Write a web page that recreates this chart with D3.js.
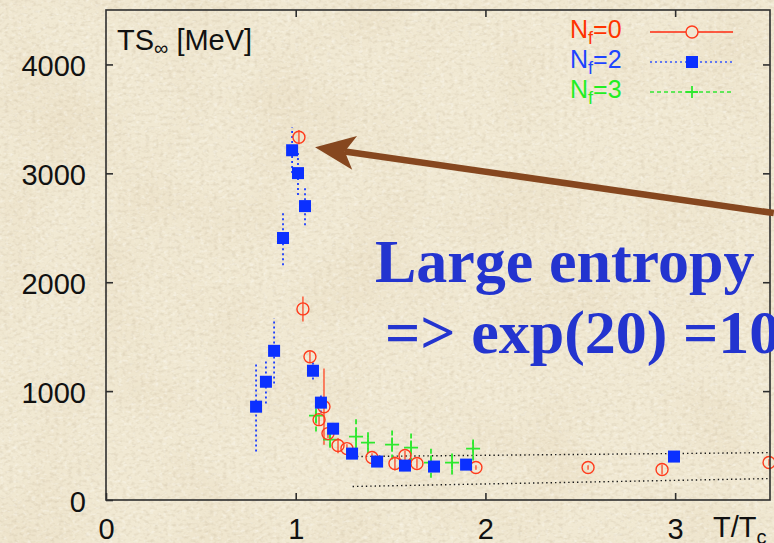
<!DOCTYPE html>
<html>
<head>
<meta charset="utf-8">
<script src="https://cdn.jsdelivr.net/npm/d3@7"></script>
<style>
  body { margin: 0; background: #f1e9d3; }
  svg { display: block; }
</style>
</head>
<body>
<svg id="chart"></svg>
<script>
// values, T/Tc vs TS_inf [MeV], e = half error bar
const nf0 = [
  {x: 1.017, y: 3332, e: 65},
  {x: 1.038, y: 1755, e: 115},
  {x: 1.075, y: 1315, e: 50},
  {x: 1.123, y: 738, e: 55},
  {x: 1.149, y: 857, e: 350},
  {x: 1.170, y: 610, e: 40},
  {x: 1.223, y: 500, e: 70},
  {x: 1.270, y: 472, e: 40},
  {x: 1.402, y: 390, e: 40},
  {x: 1.523, y: 335, e: 64},
  {x: 1.576, y: 408, e: 45},
  {x: 1.639, y: 335, e: 45},
  {x: 1.950, y: 298, e: 20},
  {x: 2.541, y: 298, e: 20},
  {x: 2.931, y: 280, e: 45},
  {x: 3.495, y: 344, e: 30}
];

const nf2 = [
  {x: 0.791, y: 857, e: 412},
  {x: 0.843, y: 1086, e: 200},
  {x: 0.886, y: 1370, e: 300},
  {x: 0.933, y: 2406, e: 250},
  {x: 0.981, y: 3212, e: 210},
  {x: 1.012, y: 3002, e: 200},
  {x: 1.049, y: 2699, e: 175},
  {x: 1.091, y: 1187, e: 80},
  {x: 1.133, y: 894, e: 90},
  {x: 1.197, y: 655, e: 50},
  {x: 1.297, y: 426, e: 30},
  {x: 1.429, y: 353, e: 30},
  {x: 1.576, y: 316, e: 30},
  {x: 1.729, y: 307, e: 30},
  {x: 1.898, y: 325, e: 30},
  {x: 2.994, y: 399, e: 30}
];

const nf3 = [
  {x: 1.107, y: 775, e: 147},
  {x: 1.181, y: 555, e: 75},
  {x: 1.318, y: 582, e: 180},
  {x: 1.381, y: 527, e: 95},
  {x: 1.508, y: 509, e: 137},
  {x: 1.608, y: 481, e: 137},
  {x: 1.713, y: 344, e: 140},
  {x: 1.824, y: 344, e: 110},
  {x: 1.935, y: 472, e: 110}
];

// the two dotted guide lines
const upperBand = [{x: 1.30, y: 399}, {x: 3.5, y: 435}];
const lowerBand = [{x: 1.30, y: 124}, {x: 3.5, y: 197}];

// annotation arrow (data units)
const arrowTail = {x: 3.52, y: 2635};
const arrowTip = {x: 1.102, y: 3240};

const xTicks = [0, 1, 2, 3];
const yTicks = [0, 1000, 2000, 3000, 4000];
const legendLabels = ['0', '2', '3'];

class EntropyChart {

  constructor(_config) {
    this.config = {
      parentElement: _config.parentElement,
      containerWidth: 774,
      containerHeight: 543,
      margin: {top: 10, right: 4, bottom: 43, left: 106}
    };
    this.initVis();
  }

  initVis() {
    let vis = this;
    vis.config.width = vis.config.containerWidth - vis.config.margin.left - vis.config.margin.right;
    vis.config.height = vis.config.containerHeight - vis.config.margin.top - vis.config.margin.bottom;

    vis.svg = d3.select(vis.config.parentElement)
      .attr('width', vis.config.containerWidth)
      .attr('height', vis.config.containerHeight);

    vis.drawPaper();

    vis.chartArea = vis.svg.append('g')
      .attr('transform', `translate(${vis.config.margin.left},${vis.config.margin.top})`);

    vis.xScale = d3.scaleLinear().domain([0, 3.5]).range([0, vis.config.width]);
    vis.yScale = d3.scaleLinear().domain([0, 4500]).range([vis.config.height, 0]);

    vis.drawAxes();
    vis.renderVis();
    vis.drawLegend();
    vis.drawAnnotation();

    // frame on top
    vis.chartArea.append('rect')
      .attr('width', vis.config.width)
      .attr('height', vis.config.height)
      .attr('fill', 'none')
      .attr('stroke', '#2e2e2e')
      .attr('stroke-width', 1.6);
  }

  drawPaper() {
    let vis = this;
    const defs = vis.svg.append('defs');
    const dark = defs.append('filter').attr('id', 'paper-dark')
      .attr('x', 0).attr('y', 0).attr('width', '100%').attr('height', '100%');
    dark.append('feTurbulence').attr('type', 'fractalNoise')
      .attr('baseFrequency', '0.22 0.3').attr('numOctaves', 2).attr('seed', 11);
    dark.append('feColorMatrix').attr('type', 'matrix')
      .attr('values', '0 0 0 0 0.55  0 0 0 0 0.46  0 0 0 0 0.32  2.6 0 0 0 -1.2');

    const light = defs.append('filter').attr('id', 'paper-light')
      .attr('x', 0).attr('y', 0).attr('width', '100%').attr('height', '100%');
    light.append('feTurbulence').attr('type', 'fractalNoise')
      .attr('baseFrequency', '0.22 0.3').attr('numOctaves', 2).attr('seed', 11);
    light.append('feColorMatrix').attr('type', 'matrix')
      .attr('values', '0 0 0 0 1  0 0 0 0 1  0 0 0 0 0.97  0 -2.6 0 0 1.2');

    // slow blotches
    const blot = defs.append('filter').attr('id', 'paper-blot')
      .attr('x', 0).attr('y', 0).attr('width', '100%').attr('height', '100%');
    blot.append('feTurbulence').attr('type', 'fractalNoise')
      .attr('baseFrequency', '0.012').attr('numOctaves', 2).attr('seed', 3);
    blot.append('feColorMatrix').attr('type', 'matrix')
      .attr('values', '0 0 0 0 0.75  0 0 0 0 0.62  0 0 0 0 0.42  1.6 0 0 0 -0.7');

    const full = sel => sel
      .attr('width', vis.config.containerWidth).attr('height', vis.config.containerHeight);
    vis.svg.append('rect').call(full).attr('fill', '#f1e9d3');
    vis.svg.append('rect').call(full).attr('filter', 'url(#paper-blot)').attr('opacity', 0.35);
    vis.svg.append('rect').call(full).attr('filter', 'url(#paper-dark)').attr('opacity', 0.3);
    vis.svg.append('rect').call(full).attr('filter', 'url(#paper-light)').attr('opacity', 0.45);
  }

  drawAxes() {
    let vis = this;
    const font = '"Liberation Sans", Arial, Helvetica, sans-serif';

    vis.xAxis = d3.axisBottom(vis.xScale).tickValues(xTicks)
      .tickSizeInner(-7).tickSizeOuter(0).tickPadding(18).tickFormat(d3.format('d'));
    vis.yAxis = d3.axisLeft(vis.yScale).tickValues(yTicks)
      .tickSizeInner(-7).tickSizeOuter(0).tickPadding(20).tickFormat(d3.format('d'));

    const xg = vis.chartArea.append('g')
      .attr('transform', `translate(0,${vis.config.height})`)
      .call(vis.xAxis);
    const yg = vis.chartArea.append('g').call(vis.yAxis);
    yg.selectAll('text').attr('dy', '0.38em');

    // inward ticks on top and right
    const tg = vis.chartArea.append('g')
      .call(d3.axisTop(vis.xScale).tickValues(xTicks.slice(1)).tickSizeInner(-7).tickSizeOuter(0).tickFormat(''));
    const rg = vis.chartArea.append('g')
      .attr('transform', `translate(${vis.config.width},0)`)
      .call(d3.axisRight(vis.yScale).tickValues(yTicks.slice(1)).tickSizeInner(-7).tickSizeOuter(0).tickFormat(''));

    [xg, yg, tg, rg].forEach(g => {
      g.select('.domain').remove();
      g.selectAll('line').attr('stroke', '#2e2e2e').attr('stroke-width', 1.6);
      g.attr('font-family', font).attr('font-size', 29);
      g.selectAll('text').attr('fill', '#111');
    });

    // axis titles
    const yl = vis.chartArea.append('text')
      .attr('x', 11).attr('y', 40)
      .attr('font-family', font).attr('font-size', 29).attr('fill', '#111');
    yl.append('tspan').text('TS');
    yl.append('tspan').attr('font-size', 20).attr('dy', 5).text('∞');
    yl.append('tspan').attr('dy', -5).text(' [MeV]');

    const xl = vis.chartArea.append('text')
      .attr('x', 607).attr('y', vis.config.height + 37)
      .attr('font-family', font).attr('font-size', 29).attr('fill', '#111');
    xl.append('tspan').text('T/T');
    xl.append('tspan').attr('font-size', 20).attr('dy', 7).text('c');
  }

  renderVis() {
    let vis = this;
    const x = d => vis.xScale(d.x), y = d => vis.yScale(d.y);
    const plot = vis.chartArea.append('g');

    // dotted guide lines
    const guide = d3.line().x(x).y(y);
    [upperBand, lowerBand].forEach(b => {
      plot.append('path').attr('d', guide(b))
        .attr('fill', 'none').attr('stroke', '#1a1a1a')
        .attr('stroke-width', 1.4).attr('stroke-dasharray', '1.4,3');
    });

    // error bars
    plot.selectAll('.err0').data(nf0).join('line').attr('class', 'err0')
      .attr('x1', x).attr('x2', x)
      .attr('y1', d => vis.yScale(d.y - d.e)).attr('y2', d => vis.yScale(d.y + d.e))
      .attr('stroke', '#ff4422').attr('stroke-opacity', 0.8).attr('stroke-width', 1.6);
    plot.selectAll('.err2').data(nf2).join('line').attr('class', 'err2')
      .attr('x1', x).attr('x2', x)
      .attr('y1', d => vis.yScale(d.y - d.e)).attr('y2', d => vis.yScale(d.y + d.e))
      .attr('stroke', '#1a3cff').attr('stroke-width', 1.8).attr('stroke-dasharray', '2,3');
    plot.selectAll('.err3').data(nf3).join('line').attr('class', 'err3')
      .attr('x1', x).attr('x2', x)
      .attr('y1', d => vis.yScale(d.y - d.e)).attr('y2', d => vis.yScale(d.y + d.e))
      .attr('stroke', '#2ee82e').attr('stroke-width', 1.8).attr('stroke-dasharray', '5,3');

    // Nf=3 pluses
    plot.selectAll('.p3').data(nf3).join('path').attr('class', 'p3')
      .attr('d', d => `M${x(d) - 7},${y(d)}H${x(d) + 7}M${x(d)},${y(d) - 7}V${y(d) + 7}`)
      .attr('stroke', '#2ee82e').attr('stroke-width', 1.8).attr('fill', 'none');

    // Nf=0 open circles
    plot.selectAll('.c0').data(nf0).join('circle').attr('class', 'c0')
      .attr('cx', x).attr('cy', y).attr('r', 6)
      .attr('fill', 'none').attr('stroke', '#ff3b1c').attr('stroke-width', 1.4);

    // Nf=2 filled squares
    plot.selectAll('.s2').data(nf2).join('rect').attr('class', 's2')
      .attr('x', d => x(d) - 6).attr('y', d => y(d) - 6)
      .attr('width', 12).attr('height', 12)
      .attr('fill', '#0b30ff');
  }

  drawLegend() {
    let vis = this;
    const font = '"Liberation Sans", Arial, Helvetica, sans-serif';
    const colors = ['#ff3300', '#1e44ff', '#22ee22'];
    const lineColors = ['#ff2a10', '#3355ff', '#33e633'];
    const dashes = [null, '2,3', '4,3'];
    const lg = vis.svg.append('g');

    legendLabels.forEach((lab, i) => {
      const yy = 32 + i * 30;
      const t = lg.append('text')
        .attr('x', 570).attr('y', yy + 6)
        .attr('font-family', font).attr('font-size', 25).attr('fill', colors[i]);
      t.append('tspan').text('N');
      t.append('tspan').attr('font-size', 18).attr('dy', 6).text('f');
      t.append('tspan').attr('dy', -6).text('=' + lab);

      lg.append('line')
        .attr('x1', 650).attr('x2', 733).attr('y1', yy).attr('y2', yy)
        .attr('stroke', lineColors[i]).attr('stroke-width', 1.5)
        .attr('stroke-dasharray', dashes[i]);
    });
    lg.append('circle').attr('cx', 692).attr('cy', 32).attr('r', 6)
      .attr('fill', '#f0e8d2').attr('stroke', '#ff3b1c').attr('stroke-width', 1.4);
    lg.append('rect').attr('x', 686).attr('y', 56).attr('width', 12).attr('height', 12)
      .attr('fill', '#0b30ff');
    lg.append('path').attr('d', 'M686,92H698M692,86V98')
      .attr('stroke', '#2ee82e').attr('stroke-width', 1.8);
  }

  drawAnnotation() {
    let vis = this;
    const ml = vis.config.margin.left, mt = vis.config.margin.top;
    const tip = [ml + vis.xScale(arrowTip.x), mt + vis.yScale(arrowTip.y)];
    const tail = [ml + vis.xScale(arrowTail.x), mt + vis.yScale(arrowTail.y)];
    const dx = tail[0] - tip[0], dy = tail[1] - tip[1];
    const len = Math.hypot(dx, dy);
    const u = [dx / len, dy / len], p = [-u[1], u[0]];
    const head = 40, half = 17, notch = 30;
    const pt = (a, b) => [tip[0] + u[0] * a + p[0] * b, tip[1] + u[1] * a + p[1] * b];

    const ag = vis.svg.append('g');
    const neck = pt(notch, 0);
    ag.append('line')
      .attr('x1', neck[0]).attr('y1', neck[1]).attr('x2', tail[0]).attr('y2', tail[1])
      .attr('stroke', '#86471f').attr('stroke-width', 6.5);
    ag.append('path')
      .attr('d', d3.line()([tip, pt(head, half), neck, pt(head, -half)]) + 'Z')
      .attr('fill', '#86471f');

    const serif = '"Liberation Serif", "Times New Roman", Times, serif';
    vis.svg.append('text')
      .attr('x', 375).attr('y', 282)
      .attr('font-family', serif).attr('font-weight', 'bold').attr('font-size', 62)
      .attr('fill', '#2334cf')
      .text('Large entropy');
    vis.svg.append('text')
      .attr('x', 385).attr('y', 353)
      .attr('font-family', serif).attr('font-weight', 'bold').attr('font-size', 62)
      .attr('fill', '#2334cf')
      .text('=> exp(20) =10');
  }
}

new EntropyChart({parentElement: '#chart'});
</script>
</body>
</html>
